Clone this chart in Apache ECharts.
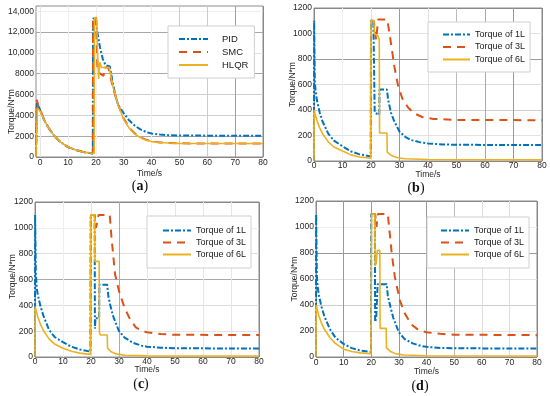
<!DOCTYPE html>
<html><head><meta charset="utf-8">
<script src="https://cdn.jsdelivr.net/npm/echarts@6/dist/echarts.min.js"></script>
<style>html,body{margin:0;padding:0;background:#fff}#c{width:550px;height:396px}</style>
</head><body><div id="c"></div>
<script>
// ---------- tick labels / categories ----------
const xTicks = [0, 10, 20, 30, 40, 50, 60, 70, 80];
const yTicksA = [0, 2000, 4000, 6000, 8000, 10000, 12000, 14000];
const yTicksL = [0, 200, 400, 600, 800, 1000, 1200];
const namesA = ['PID', 'SMC', 'HLQR'];
const namesL = ['Torque of 1L', 'Torque of 3L', 'Torque of 6L'];
const panelLetters = ['a', 'b', 'c', 'd'];
const xName = 'Time/s';
const yName = 'Torque/N*m';

// ---------- panel (a) ----------
const aPID = [[-1.5,0],[-1.3,0],[-1.2,5300],[-0.5,4800],[0,4500],[1,3800],[2,3250],[3,2800],[5,2050],[7,1500],[10,950],[13,650],[16,450],[18.9,330],[19,13300],[20,13300],[20.5,12000],[21.5,10500],[22.5,9400],[23.5,8800],[25,8700],[26,7200],[27,5900],[28,5000],[30,4200],[32,3500],[34,3000],[36,2650],[38,2400],[40,2250],[43,2150],[46,2100],[50,2070],[60,2050],[80,2050]];
const aSMC = [[-1.5,0],[-1.3,0],[-1.2,5500],[-0.8,5000],[0,4550],[1,3850],[2,3250],[3,2800],[5,2050],[7,1500],[10,950],[13,650],[16,450],[18.9,330],[19,13400],[20,13400],[20.6,8300],[21.5,8000],[22.8,7800],[23,8600],[24.5,8600],[26,6800],[28,5000],[30,3700],[32,2800],[34,2250],[36,1900],[38,1650],[40,1500],[43,1400],[46,1340],[50,1310],[60,1300],[80,1300]];
const aHLQR = [[-1.5,0],[-1.1,0],[-1.0,4700],[0,4400],[1,3800],[2,3250],[3,2800],[5,2050],[7,1500],[10,950],[13,650],[16,450],[19.4,330],[19.5,13300],[20.3,13300],[20.6,10000],[21,7500],[21.4,9100],[22,8600],[24.8,8600],[26,6900],[28,5000],[30,3600],[32,2750],[34,2200],[36,1850],[38,1620],[40,1480],[43,1390],[46,1340],[50,1310],[60,1300],[80,1300]];

// ---------- panel (b) ----------
const b1L = [[0,0],[0.05,1100],[0.3,620],[0.6,540],[1,480],[2,380],[3,310],[5,215],[7,160],[10,115],[13,75],[16,52],[19.9,35],[20,1100],[20.8,1100],[20.9,1000],[21.2,990],[21.3,380],[22.9,360],[23,560],[25.6,560],[26,480],[27,380],[28,320],[30,230],[32,190],[34,165],[37,148],[40,138],[45,130],[50,127],[80,125]];
const b3L = [[19.9,1100],[21,1100],[21.8,950],[22.3,950],[22.5,1110],[25.7,1110],[26.5,1000],[27.3,880],[28.2,740],[29.5,590],[31,490],[33,420],[35,375],[38,345],[42,330],[50,322],[80,320]];
const b6L = [[0,0],[0.05,400],[0.5,360],[1,320],[2,260],[3,215],[5,150],[7,110],[10,78],[13,48],[16,32],[19.9,22],[20,1100],[21,1100],[21.2,1000],[22.5,980],[22.9,950],[23,220],[25.6,220],[25.7,70],[27,45],[29,28],[32,18],[40,12],[80,10]];

// ---------- panel (c) ----------
const c1L = [[0,0],[0.05,1100],[0.3,650],[0.6,540],[1,480],[2,390],[3,320],[5,210],[7,155],[10,115],[13,80],[16,58],[19.8,42],[19.9,1100],[21.3,1100],[21.4,220],[21.6,300],[22.9,300],[23,560],[25.8,560],[26.2,470],[27,390],[28,310],[30,200],[32,150],[35,110],[38,88],[40,80],[45,72],[50,68],[80,65]];
const c3L = [[19.9,1100],[21.3,1100],[21.8,1000],[22.4,1000],[22.7,1100],[26.7,1100],[27.3,930],[28.6,640],[30,510],[32,380],[34,290],[36,230],[38,205],[40,192],[45,178],[50,172],[80,170]];
const c6L = [[0,0],[0.05,390],[0.5,350],[1,310],[2,250],[3,205],[5,140],[7,100],[10,68],[13,44],[16,30],[19.8,20],[19.9,1100],[21.3,1100],[21.4,740],[22.9,740],[23,190],[23.4,170],[25.8,170],[25.9,70],[27,42],[29,24],[32,14],[40,9],[80,8]];

// ---------- panel (d) ----------
const d1L = [[0,0],[0.05,1100],[0.3,630],[0.6,540],[1,480],[2,385],[3,315],[5,215],[7,150],[10,100],[13,68],[16,50],[19.9,38],[20.0,1100],[21.3,1100],[21.4,270],[21.8,300],[22.2,300],[22.3,560],[25.6,560],[26,470],[27,380],[28,300],[30,190],[32,140],[35,105],[38,85],[40,78],[45,70],[50,67],[80,65]];
const d3L = [[20.2,1100],[21.4,1100],[21.9,1000],[22.2,1000],[22.4,1100],[26,1100],[26.7,950],[27.4,800],[28.5,620],[30.3,440],[32,340],[34.5,250],[37,210],[40,190],[45,178],[50,172],[80,168]];
const d6L = [[0,0],[0.05,400],[0.5,360],[1,320],[2,260],[3,215],[5,150],[7,105],[10,60],[13,42],[16,32],[19.9,25],[20.1,1100],[21.3,1100],[21.4,700],[21.8,720],[22.2,820],[23.1,820],[23.2,220],[25.4,220],[25.5,70],[27,42],[29,24],[32,15],[40,10],[80,8]];

// ---------- styling ----------
const BLUE = '#0072BD', RED = '#D95319', YEL = '#EDB120';
const FONT = 'Liberation Sans';
const styles = [
  {color: BLUE, width: 2, type: [6, 2, 2, 2]},
  {color: RED, width: 2, type: [8, 6]},
  {color: YEL, width: 1.6, type: 'solid'}
];
const grids = [
  {left: 36, top: 6, width: 227, height: 151},
  {left: 314, top: 8, width: 228, height: 153},
  {left: 35, top: 202, width: 224, height: 155},
  {left: 316, top: 201, width: 221, height: 156}
];
const xNameGaps = [12, 9, 8.5, 10.5];
const xLabelMargins = [1.3, 0, 0, 0.8];
const yNameGaps = [20, 17, 18, 17];
const yNamePads = [[0, 60, 0, 0], [0, 0, 0, 0], [0, 0, 0, 6], [0, 0, 0, 0]];
const xGridColors = [
  ['#e6e6e6','#eeeeee','#eeeeee','#eeeeee','#eeeeee','#cccccc','#cccccc','#a0a0a0','#888'],
  ['#888','#eeeeee','#e0e0e0','#999999','#e0e0e0','#bbbbbb','#aaaaaa','#999999','#888'],
  ['#888','#eeeeee','#e0e0e0','#aaaaaa','#e6e6e6','#e6e6e6','#e6e6e6','#e6e6e6','#888'],
  ['#888','#999999','#999999','#999999','#999999','#bbbbbb','#dddddd','#dddddd','#888']
];
const yGridColors = [
  ['#888','#a8a8a8','#cfcfcf','#cfcfcf','#a8a8a8','#e2e2e2','#a8a8a8','#eeeeee'],
  ['#888','#e2e2e2','#cccccc','#dddddd','#999999','#e2e2e2','#888'],
  ['#888','#e2e2e2','#dddddd','#aaaaaa','#dddddd','#eeeeee','#888'],
  ['#888','#e2e2e2','#cccccc','#e2e2e2','#999999','#eeeeee','#888']
];
const axisLabelStyle = {fontFamily: FONT, fontSize: 8.5, color: '#262626'};

const xAxes = grids.map((g, i) => ({
  type: 'value', gridIndex: i,
  min: i === 0 ? -1.5 : 0, max: 80,
  name: xName, nameLocation: 'middle', nameGap: xNameGaps[i], nameMoveOverlap: false,
  nameTextStyle: {fontFamily: FONT, fontSize: 8.5, color: '#262626'},
  axisLine: {show: false},
  axisTick: {show: false, customValues: xTicks},
  axisLabel: Object.assign({customValues: xTicks, margin: xLabelMargins[i]}, axisLabelStyle),
  splitLine: {show: true, lineStyle: {color: xGridColors[i], width: 1}}
}));
const yAxes = grids.map((g, i) => ({
  type: 'value', gridIndex: i,
  min: 0, max: i === 0 ? 14500 : 1200,
  name: yName, nameLocation: 'middle', nameGap: yNameGaps[i], nameMoveOverlap: false,
  nameTextStyle: {fontFamily: FONT, fontSize: 8.5, color: '#262626', padding: yNamePads[i]},
  axisLine: {show: false},
  axisTick: {show: false, customValues: i === 0 ? yTicksA : yTicksL},
  axisLabel: Object.assign({
    customValues: i === 0 ? yTicksA : yTicksL, margin: 2,
    formatter: v => v >= 10000 ? v.toLocaleString('en-US') : String(v)
  }, axisLabelStyle),
  splitLine: {show: true, lineStyle: {color: yGridColors[i], width: 1}}
}));

const panels = [
  {names: namesA, data: [aPID, aSMC, aHLQR]},
  {names: namesL, data: [b1L, b3L, b6L]},
  {names: namesL, data: [c1L, c3L, c6L]},
  {names: namesL, data: [d1L, d3L, d6L]}
];
const series = [];
panels.forEach((p, i) => {
  p.data.forEach((d, k) => {
    series.push({
      type: 'line', name: p.names[k], xAxisIndex: i, yAxisIndex: i,
      data: d, symbol: 'none', showSymbol: false, animation: false,
      lineStyle: Object.assign({}, styles[k]), itemStyle: {color: styles[k].color},
      z: 2 + k
    });
  });
});

const legendBase = {
  orient: 'vertical', itemHeight: 8, itemGap: 3,
  borderColor: '#cfcfcf', borderWidth: 1, backgroundColor: '#fff',
  selectedMode: false,
  itemStyle: {color: 'rgba(0,0,0,0)', borderColor: 'rgba(0,0,0,0)', borderWidth: 0, opacity: 0},
  textStyle: {fontFamily: FONT, fontSize: 9, color: '#1a1a1a'}
};
const legends = [
  Object.assign({}, legendBase, {data: namesA, left: 168, top: 26, itemWidth: 29, padding: [8, 6, 8, 10],
    textStyle: {fontFamily: FONT, fontSize: 9.5, color: '#1a1a1a', padding: [0, 0, 0, 9]}}),
  Object.assign({}, legendBase, {data: namesL, left: 428, top: 22, itemWidth: 27, itemGap: 3.5, padding: [8, 5, 8, 14]}),
  Object.assign({}, legendBase, {data: namesL, left: 147, top: 216, itemWidth: 28, padding: [10, 5, 9, 15]}),
  Object.assign({}, legendBase, {data: namesL, left: 427, top: 217, itemWidth: 28, padding: [9, 5, 9, 13]})
];

const labelPos = [[140, 186], [416, 188], [141, 384], [420, 386]];
const graphics = labelPos.map((p, i) => ({
  type: 'text', x: p[0], y: p[1],
  style: {
    text: '{p|(}{b|' + panelLetters[i] + '}{p|)}',
    align: 'center', verticalAlign: 'middle',
    rich: {
      p: {fontFamily: 'Liberation Serif', fontSize: 14, fill: '#111'},
      b: {fontFamily: 'Liberation Serif', fontSize: 14, fontWeight: 'bold', fill: '#111'}
    }
  }
}));

const chart = echarts.init(document.getElementById('c'), null, {renderer: 'canvas'});
chart.setOption({
  backgroundColor: '#fff',
  animation: false,
  grid: grids.map(g => Object.assign({show: true, borderColor: '#8c8c8c', borderWidth: 1, backgroundColor: 'transparent'}, g)),
  xAxis: xAxes,
  yAxis: yAxes,
  legend: legends,
  series: series,
  graphic: graphics
});
</script>
</body></html>
